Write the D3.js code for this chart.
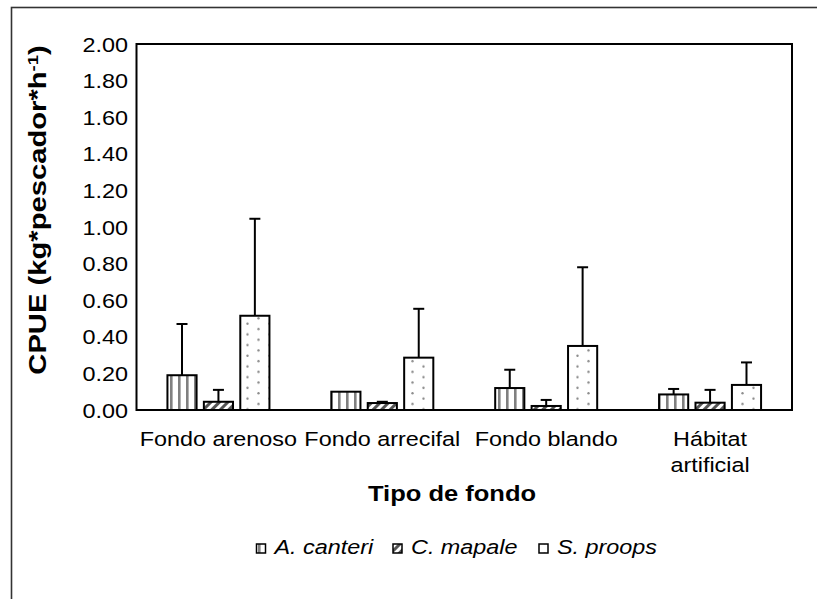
<!DOCTYPE html>
<html>
<head>
<meta charset="utf-8">
<script src="https://cdn.jsdelivr.net/npm/d3@7"></script>
<style>
  html, body { margin: 0; padding: 0; background: #fff; }
  svg { display: block; font-family: "Liberation Sans", Arial, sans-serif; }
</style>
</head>
<body>
<svg id="chart" width="817" height="599"></svg>
<script>
// CPUE by bottom type for three species (mean with upper SD whisker)
const categories = ["Fondo arenoso", "Fondo arrecifal", "Fondo blando", "Hábitat artificial"];
const categoryLines = [["Fondo arenoso"], ["Fondo arrecifal"], ["Fondo blando"], ["Hábitat", "artificial"]];
const seriesNames = ["A. canteri", "C. mapale", "S. proops"];
const canteriMean = [0.19, 0.10, 0.12, 0.085];
const canteriErr  = [0.28, 0.00, 0.10, 0.03];
const mapaleMean  = [0.045, 0.038, 0.022, 0.04];
const mapaleErr   = [0.065, 0.007, 0.033, 0.07];
const proopsMean  = [0.515, 0.286, 0.35, 0.137];
const proopsErr   = [0.53, 0.267, 0.43, 0.123];
const yTicks = [0, 0.2, 0.4, 0.6, 0.8, 1.0, 1.2, 1.4, 1.6, 1.8, 2.0];

const means = [canteriMean, mapaleMean, proopsMean];
const errs = [canteriErr, mapaleErr, proopsErr];
const patternIds = ["pat-vert", "pat-diag", "pat-dots"];

// Excel-style text is horizontally wide; stretch glyphs along the baseline
const SX = 1.2;
const FS = 19.5;
const FONT = "'Liberation Sans', Arial, sans-serif";

const svg = d3.select("#chart");
const plot = { left: 136.5, right: 792, top: 44, bottom: 410 };

// ---- fill patterns ----
const defs = svg.append("defs");
const pv = defs.append("pattern").attr("id", "pat-vert")
  .attr("patternUnits", "userSpaceOnUse").attr("width", 8).attr("height", 8);
pv.append("rect").attr("width", 8).attr("height", 8).attr("fill", "#fff");
pv.append("rect").attr("x", 2).attr("width", 2.6).attr("height", 8).attr("fill", "#808080");

const pd = defs.append("pattern").attr("id", "pat-diag")
  .attr("patternUnits", "userSpaceOnUse").attr("width", 6).attr("height", 6)
  .attr("patternTransform", "rotate(45)");
pd.append("rect").attr("width", 6).attr("height", 6).attr("fill", "#fff");
pd.append("rect").attr("width", 3).attr("height", 6).attr("fill", "#555");

const pdot = defs.append("pattern").attr("id", "pat-dots")
  .attr("patternUnits", "userSpaceOnUse").attr("width", 22).attr("height", 10.7);
pdot.append("rect").attr("width", 22).attr("height", 10.7).attr("fill", "#fff");
pdot.append("circle").attr("cx", 5.5).attr("cy", 2.7).attr("r", 1.2).attr("fill", "#8c8c8c");
pdot.append("circle").attr("cx", 16.5).attr("cy", 8.0).attr("r", 1.2).attr("fill", "#8c8c8c");

// ---- outer chart border ----
svg.append("rect").attr("x", 11.5).attr("y", 7.5).attr("width", 900).attr("height", 700)
  .attr("fill", "none").attr("stroke", "#333").attr("stroke-width", 1.6);

// ---- scales ----
const x = d3.scaleBand().domain(categories).range([plot.left, plot.right]).padding(0);
const xs = d3.scaleBand().domain(seriesNames).range([-51, 51]).paddingInner(0.2).paddingOuter(0);
const y = d3.scaleLinear().domain([0, 2]).range([plot.bottom, plot.top]);

// ---- y axis labels ----
const yAxis = svg.append("g").attr("transform", `translate(${plot.left},0)`)
  .call(d3.axisLeft(y).tickValues(yTicks).tickFormat(d3.format(".2f")).tickSize(0));
yAxis.select(".domain").remove();
yAxis.selectAll("text")
  .attr("x", -8.5 / SX).attr("dy", "0.36em")
  .attr("transform", `scale(${SX},1)`)
  .attr("font-family", FONT).attr("font-size", FS).attr("fill", "#000");

// ---- bars ----
const rows = [];
categories.forEach((c, i) => {
  seriesNames.forEach((s, j) => {
    rows.push({ cat: c, series: s, j, mean: means[j][i], err: errs[j][i] });
  });
});

const g = svg.append("g");
g.selectAll("rect.bar").data(rows).join("rect")
  .attr("class", "bar")
  .attr("x", d => x(d.cat) + x.bandwidth() / 2 + xs(d.series))
  .attr("y", d => y(d.mean))
  .attr("width", xs.bandwidth())
  .attr("height", d => y(0) - y(d.mean))
  .attr("fill", d => `url(#${patternIds[d.j]})`)
  .attr("stroke", "#000").attr("stroke-width", 2);

// ---- error bars (upper whisker only) ----
const eb = rows.filter(d => d.err > 0);
const cx = d => x(d.cat) + x.bandwidth() / 2 + xs(d.series) + xs.bandwidth() / 2;
g.selectAll("line.whisker").data(eb).join("line")
  .attr("x1", cx).attr("x2", cx)
  .attr("y1", d => y(d.mean)).attr("y2", d => y(d.mean + d.err))
  .attr("stroke", "#000").attr("stroke-width", 2);
g.selectAll("line.cap").data(eb).join("line")
  .attr("x1", d => cx(d) - 5.5).attr("x2", d => cx(d) + 5.5)
  .attr("y1", d => y(d.mean + d.err)).attr("y2", d => y(d.mean + d.err))
  .attr("stroke", "#000").attr("stroke-width", 2);

// ---- plot area frame ----
svg.append("rect")
  .attr("x", plot.left).attr("y", plot.top)
  .attr("width", plot.right - plot.left).attr("height", plot.bottom - plot.top)
  .attr("fill", "none").attr("stroke", "#000").attr("stroke-width", 2);

// ---- category labels ----
categories.forEach((c, i) => {
  const t = svg.append("text")
    .attr("transform", `translate(${x(c) + x.bandwidth() / 2},445.5) scale(${SX},1)`)
    .attr("text-anchor", "middle")
    .attr("font-family", FONT).attr("font-size", FS).attr("fill", "#000");
  categoryLines[i].forEach((line, k) => {
    t.append("tspan").attr("x", 0).attr("y", k * 26.5).text(line);
  });
});

// ---- axis titles ----
svg.append("text")
  .attr("transform", `translate(452,500.5) scale(1.16,1)`)
  .attr("text-anchor", "middle")
  .attr("font-family", FONT).attr("font-weight", "bold").attr("font-size", 22)
  .attr("fill", "#000").text("Tipo de fondo");

const yt = svg.append("text")
  .attr("transform", `translate(46,210) rotate(-90) scale(1.27,1)`)
  .attr("text-anchor", "middle")
  .attr("font-family", FONT).attr("font-weight", "bold").attr("font-size", 23)
  .attr("fill", "#000");
yt.append("tspan").text("CPUE (kg*pescador*h");
yt.append("tspan").attr("font-size", 14.5).attr("dy", -8.5).text("-1");
yt.append("tspan").attr("dy", 8.5).text(")");

// ---- legend ----
const legendX = [256.5, 393, 539];
seriesNames.forEach((s, j) => {
  svg.append("rect")
    .attr("x", legendX[j]).attr("y", 544).attr("width", 9).attr("height", 9)
    .attr("fill", `url(#${patternIds[j]})`).attr("stroke", "#000").attr("stroke-width", 1.5);
  svg.append("text")
    .attr("transform", `translate(${legendX[j] + 18},554) scale(${SX},1)`)
    .attr("font-family", FONT).attr("font-style", "italic").attr("font-size", FS)
    .attr("fill", "#000").text(s);
});
</script>
</body>
</html>
